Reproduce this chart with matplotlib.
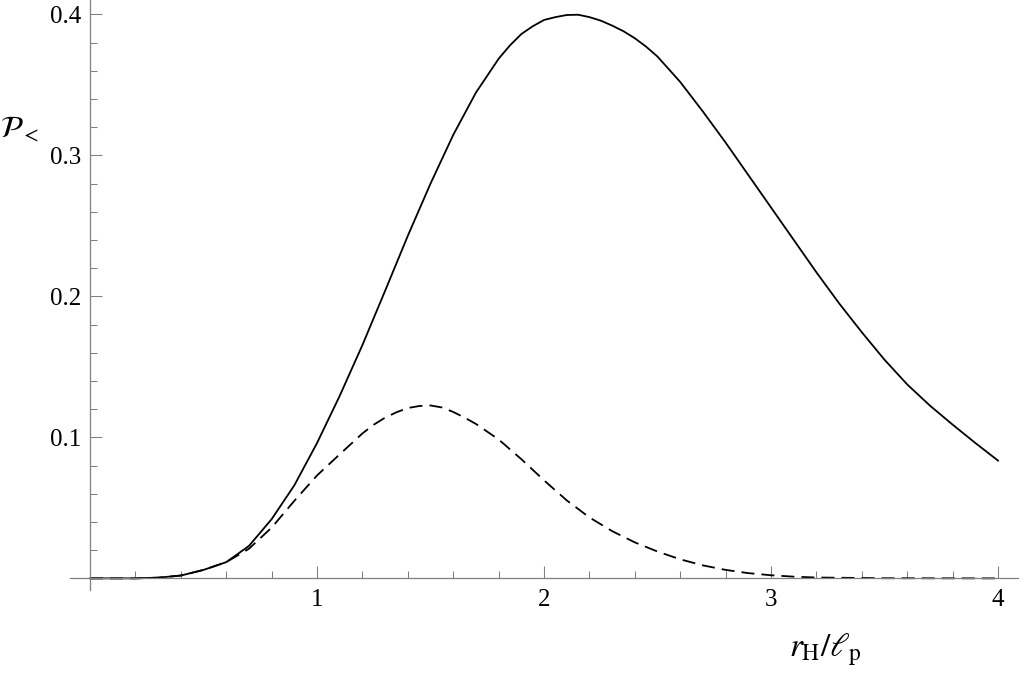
import numpy as np
import matplotlib
matplotlib.use("Agg")
import matplotlib.pyplot as plt

plt.rcParams['font.family'] = 'serif'
plt.rcParams['font.serif'] = ['Liberation Serif', 'DejaVu Serif']
plt.rcParams['mathtext.fontset'] = 'stix'

# values
x_solid = [0.0, 0.1, 0.2, 0.3, 0.4, 0.5, 0.6, 0.7, 0.8, 0.9, 1.0, 1.1, 1.2, 1.3, 1.4,
           1.5, 1.6, 1.7, 1.8, 1.85, 1.9, 1.95, 2.0, 2.05, 2.1, 2.15, 2.2, 2.25, 2.3,
           2.35, 2.4, 2.45, 2.5, 2.6, 2.7, 2.8, 2.9, 3.0, 3.1, 3.2, 3.3, 3.4, 3.5,
           3.6, 3.7, 3.8, 3.9, 4.0]
y_solid = [0.0, 0.0, 0.0, 0.0005, 0.002, 0.006, 0.0115, 0.023, 0.042, 0.066, 0.096,
           0.1295, 0.1655, 0.204, 0.243, 0.280, 0.3145, 0.3445, 0.3685, 0.378, 0.386,
           0.3915, 0.396, 0.398, 0.3995, 0.3997, 0.398, 0.3955, 0.392, 0.388, 0.383,
           0.377, 0.370, 0.352, 0.331, 0.309, 0.286, 0.263, 0.240, 0.217, 0.195,
           0.1745, 0.155, 0.1375, 0.1225, 0.109, 0.096, 0.0835]

x_dashed = [0.0, 0.1, 0.2, 0.3, 0.4, 0.5, 0.6, 0.7, 0.8, 0.9, 1.0, 1.1, 1.2, 1.25, 1.3,
            1.35, 1.4, 1.45, 1.5, 1.55, 1.6, 1.65, 1.7, 1.8, 1.9, 2.0, 2.1, 2.2, 2.3,
            2.4, 2.5, 2.6, 2.7, 2.8, 2.9, 3.0, 3.1, 3.2, 3.5, 4.0]
y_dashed = [0.0, 0.0, 0.0, 0.0005, 0.002, 0.006, 0.0115, 0.021, 0.036, 0.055, 0.073,
            0.088, 0.1028, 0.109, 0.114, 0.1178, 0.1208, 0.1222, 0.1226, 0.1212,
            0.118, 0.114, 0.1095, 0.0985, 0.0845, 0.0695, 0.0553, 0.0432, 0.0335,
            0.0255, 0.019, 0.0135, 0.0092, 0.006, 0.0037, 0.0022, 0.0012, 0.0006,
            0.0001, 0.0]

x_major = [1, 2, 3, 4]
x_labels = ['1', '2', '3', '4']
y_major = [0.1, 0.2, 0.3, 0.4]
y_labels = ['0.1', '0.2', '0.3', '0.4']

grey = '#808080'

fig = plt.figure(figsize=(10.24, 6.77), dpi=100)
ax = fig.add_axes([0.068, 0.128, 0.9266, 0.8717])

ax.plot(x_solid, y_solid, color='black', lw=1.3)
ax.plot(x_dashed, y_dashed, color='black', lw=1.3, linestyle=(0, (7.2, 3.9)))

ax.set_xlim(-0.09, 4.09)
ax.set_ylim(-0.0085, 0.41)

# Mathematica-style axes crossing at the origin
for side in ['top', 'right']:
    ax.spines[side].set_visible(False)
ax.spines['left'].set_position(('data', 0))
ax.spines['bottom'].set_position(('data', 0))
for side in ['left', 'bottom']:
    ax.spines[side].set_color(grey)
    ax.spines[side].set_linewidth(0.9)

ax.set_xticks(x_major)
ax.set_xticklabels(x_labels)
ax.set_xticks([v / 5 for v in range(1, 21) if v % 5], minor=True)
ax.set_yticks(y_major)
ax.set_yticklabels(y_labels)
ax.set_yticks([v / 50 for v in range(1, 20) if v % 5], minor=True)

ax.tick_params(which='both', direction='in', color=grey, width=0.75, labelsize=18)
ax.tick_params(which='major', length=8.4)
ax.tick_params(which='minor', length=5)
ax.tick_params(axis='x', which='major', pad=8)
ax.tick_params(axis='y', which='major', pad=6)

ax.set_xlabel(r'$r_{\mathrm{H}}/\ell_{\mathrm{p}}$', fontsize=24, va='center')
ax.xaxis.set_label_coords((825 - 69.6) / 948.8, -(650 - 590.3) / 590.1)
ax.set_ylabel(r'$\mathcal{P}_<$', fontsize=22, rotation=0, ha='center', va='center')
ax.yaxis.set_label_coords((20 - 69.6) / 948.8, (590.3 - 130) / 590.1)

fig.savefig('out.png', dpi=100)
